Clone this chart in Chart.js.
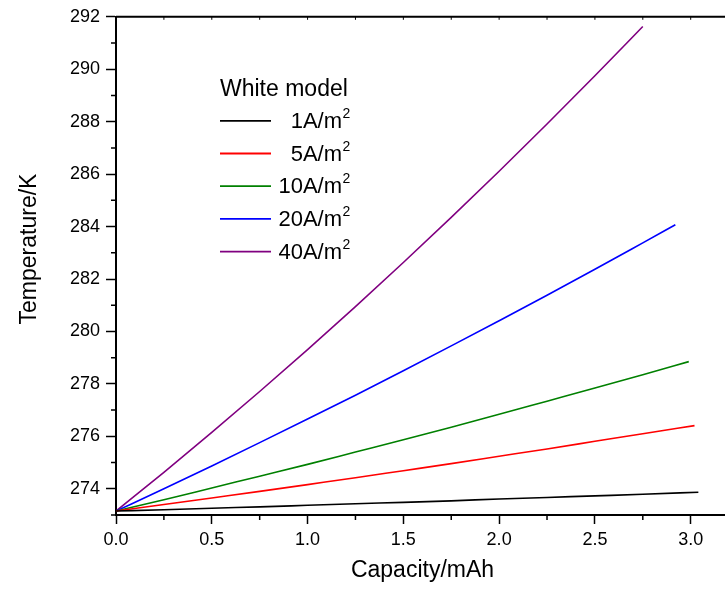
<!DOCTYPE html>
<html>
<head>
<meta charset="utf-8">
<script src="https://cdn.jsdelivr.net/npm/chart.js@4/dist/chart.umd.min.js"></script>
<style>
  html, body { margin: 0; padding: 0; overflow: hidden; background: #fff; }
  canvas { display: block; }
</style>
</head>
<body>
<canvas id="chart" width="745" height="589"></canvas>
<script>
// 容量 (mAh) と温度 (K)、電流密度ごと
var cap1  = [0, 0.25, 0.5, 0.75, 1.0, 1.25, 1.5, 1.75, 2.0, 2.25, 2.5, 2.75, 3.04];
var temp1 = [273.15, 273.20, 273.26, 273.31, 273.37, 273.43, 273.48, 273.54, 273.61, 273.67, 273.73, 273.79, 273.87];

var cap5  = [0, 0.25, 0.5, 0.75, 1.0, 1.25, 1.5, 1.75, 2.0, 2.25, 2.5, 2.75, 3.02];
var temp5 = [273.15, 273.40, 273.65, 273.90, 274.16, 274.42, 274.69, 274.96, 275.24, 275.52, 275.81, 276.10, 276.41];

var cap10  = [0, 0.25, 0.5, 0.75, 1.0, 1.25, 1.5, 1.75, 2.0, 2.25, 2.5, 2.75, 2.99];
var temp10 = [273.15, 273.58, 274.03, 274.48, 274.93, 275.40, 275.87, 276.35, 276.84, 277.34, 277.84, 278.35, 278.85];

var cap20  = [0, 0.25, 0.5, 0.75, 1.0, 1.25, 1.5, 1.75, 2.0, 2.25, 2.5, 2.75, 2.92];
var temp20 = [273.15, 274.00, 274.87, 275.76, 276.66, 277.57, 278.50, 279.45, 280.41, 281.38, 282.37, 283.38, 284.07];

var cap40  = [0, 0.25, 0.5, 0.75, 1.0, 1.25, 1.5, 1.75, 2.0, 2.25, 2.5, 2.75];
var temp40 = [273.15, 274.63, 276.15, 277.71, 279.31, 280.95, 282.63, 284.35, 286.11, 287.91, 289.75, 291.63];

var seriesLabels = ['1A/m²', '5A/m²', '10A/m²', '20A/m²', '40A/m²'];
var seriesColors = ['#000000', '#ff0000', '#008000', '#0000ff', '#800080'];
var legendTitle = 'White model';
var yTitle = 'Temperature/K';

// 目盛り
var xTicks = [0, 0.5, 1.0, 1.5, 2.0, 2.5, 3.0];
var xMinorTicks = [0.25, 0.75, 1.25, 1.75, 2.25, 2.75];
var yTicks = [274, 276, 278, 280, 282, 284, 286, 288, 290, 292];
var yMinorTicks = [273, 275, 277, 279, 281, 283, 285, 287, 289, 291];

var FONT = '"Liberation Sans", Arial, sans-serif';

function toPoints(xs, ys) {
  return xs.map(function(x, i) { return { x: x, y: ys[i] }; });
}

var allCaps = [cap1, cap5, cap10, cap20, cap40];
var allTemps = [temp1, temp5, temp10, temp20, temp40];

var datasets = seriesLabels.map(function(label, i) {
  return {
    label: label,
    data: toPoints(allCaps[i], allTemps[i]),
    borderColor: seriesColors[i],
    borderWidth: 1.6,
    pointRadius: 0,
    fill: false,
    cubicInterpolationMode: 'monotone'
  };
});

// 上枠・補助目盛り・縦軸タイトル
var framePlugin = {
  id: 'frame',
  afterDraw: function(chart) {
    var ctx = chart.ctx;
    var a = chart.chartArea;
    var xs = chart.scales.x;
    var ys = chart.scales.y;
    ctx.save();
    ctx.strokeStyle = '#000';
    ctx.lineWidth = 2;
    ctx.beginPath();
    ctx.moveTo(a.left, a.top);
    ctx.lineTo(a.right, a.top);
    ctx.lineTo(a.right, a.bottom);
    ctx.stroke();

    ctx.lineWidth = 1.5;
    ctx.beginPath();
    xMinorTicks.forEach(function(v) {
      var px = xs.getPixelForValue(v);
      ctx.moveTo(px, a.bottom);
      ctx.lineTo(px, a.bottom + 5);
    });
    yMinorTicks.forEach(function(v) {
      var py = ys.getPixelForValue(v);
      ctx.moveTo(a.left, py);
      ctx.lineTo(a.left - 5, py);
    });
    ctx.stroke();

    ctx.lineWidth = 1;
    ctx.beginPath();
    xTicks.concat(xMinorTicks).forEach(function(v) {
      var px = xs.getPixelForValue(v);
      ctx.moveTo(px, a.top);
      ctx.lineTo(px, a.top + 3);
    });
    ctx.stroke();

    ctx.translate(36, 249);
    ctx.rotate(-Math.PI / 2);
    ctx.fillStyle = '#000';
    ctx.font = '23px ' + FONT;
    ctx.textAlign = 'center';
    ctx.textBaseline = 'alphabetic';
    ctx.fillText(yTitle, 0, 0);
    ctx.restore();
  }
};

// 凡例（右寄せの文字と上付きの2）
var legendPlugin = {
  id: 'whiteLegend',
  afterDraw: function(chart) {
    var ctx = chart.ctx;
    var a = chart.chartArea;
    var x0 = a.left + 104;
    var y0 = a.top + 104;
    ctx.save();
    ctx.fillStyle = '#000';
    ctx.font = '23px ' + FONT;
    ctx.textAlign = 'left';
    ctx.textBaseline = 'alphabetic';
    ctx.fillText(legendTitle, x0, a.top + 79);

    chart.data.datasets.forEach(function(ds, i) {
      var y = y0 + i * 32.7;
      ctx.strokeStyle = ds.borderColor;
      ctx.lineWidth = 1.8;
      ctx.beginPath();
      ctx.moveTo(x0, y);
      ctx.lineTo(x0 + 51, y);
      ctx.stroke();

      var base = ds.label.slice(0, -1);
      ctx.font = '22px ' + FONT;
      ctx.textAlign = 'right';
      ctx.fillText(base, x0 + 122, y + 7);
      ctx.font = '14px ' + FONT;
      ctx.textAlign = 'left';
      ctx.fillText('2', x0 + 122.5, y - 3);
    });
    ctx.restore();
  }
};

var ctx = document.getElementById('chart').getContext('2d');
var myChart = new Chart(ctx, {
  type: 'line',
  data: { datasets: datasets },
  options: {
    responsive: false,
    animation: false,
    layout: { padding: { left: 0, right: 16, top: 16, bottom: 0 } },
    plugins: {
      legend: { display: false },
      tooltip: { enabled: false }
    },
    scales: {
      x: {
        type: 'linear',
        min: 0,
        max: 3.2,
        afterBuildTicks: function(scale) {
          scale.ticks = xTicks.map(function(v) { return { value: v }; });
        },
        afterFit: function(scale) { scale.height = 74; },
        ticks: {
          color: '#000',
          font: { family: FONT, size: 18 },
          padding: 5,
          maxRotation: 0,
          callback: function(v) { return Number(v).toFixed(1); }
        },
        grid: {
          drawOnChartArea: false,
          drawTicks: true,
          tickLength: 9,
          tickColor: '#000',
          tickWidth: 1.5
        },
        border: { color: '#000', width: 2 },
        title: {
          display: true,
          text: 'Capacity/mAh',
          color: '#000',
          font: { family: FONT, size: 23 },
          padding: { top: 0, bottom: 5 }
        }
      },
      y: {
        type: 'linear',
        min: 273,
        max: 292,
        afterBuildTicks: function(scale) {
          scale.ticks = yTicks.map(function(v) { return { value: v }; });
        },
        afterFit: function(scale) { scale.width = 116; },
        ticks: {
          color: '#000',
          font: { family: FONT, size: 18 },
          padding: 6
        },
        grid: {
          drawOnChartArea: false,
          drawTicks: true,
          tickLength: 10,
          tickColor: '#000',
          tickWidth: 1.5
        },
        border: { color: '#000', width: 2 }
      }
    }
  },
  plugins: [framePlugin, legendPlugin]
});
</script>
</body>
</html>
